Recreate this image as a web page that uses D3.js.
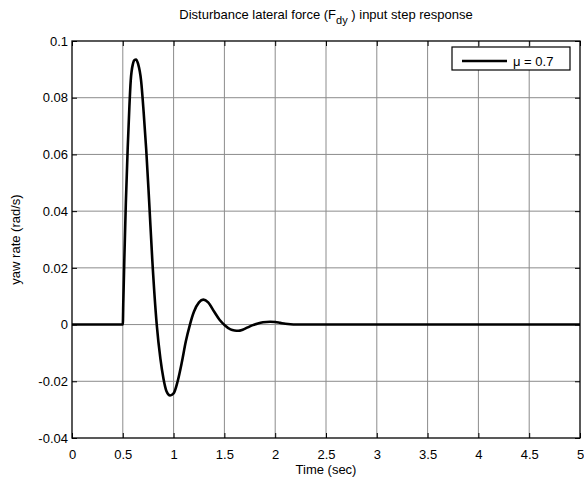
<!DOCTYPE html>
<html><head><meta charset="utf-8">
<script src="https://cdn.jsdelivr.net/npm/d3@7"></script>
<style>body{margin:0;background:#fff}svg{display:block}text{font-family:"Liberation Sans",Arial,sans-serif}</style>
</head><body>
<script>
const timeValues = [0,0.5,0.505,0.515,0.53,0.548,0.565,0.578,0.6,0.615,0.63,0.65,0.68,0.705,0.73,0.76,0.79,0.834,0.87,0.9,0.93,0.965,1.0,1.04,1.08,1.12,1.161,1.2,1.25,1.292,1.34,1.4,1.45,1.506,1.56,1.6,1.637,1.68,1.73,1.78,1.83,1.88,1.95,2.0,2.05,2.1,2.15,2.2,5];
const yawRate   = [0,0,0.008,0.023,0.043,0.062,0.077,0.086,0.092,0.0933,0.0935,0.092,0.086,0.075,0.062,0.043,0.023,0,-0.012,-0.019,-0.0235,-0.025,-0.0243,-0.02,-0.0135,-0.006,0,0.0045,0.0078,0.0088,0.0078,0.0045,0.0018,-0.0003,-0.0017,-0.0021,-0.0022,-0.0018,-0.001,-0.0002,0.0004,0.0008,0.001,0.0009,0.0006,0.0003,0.0001,0,0];
const xTicks = [0,0.5,1,1.5,2,2.5,3,3.5,4,4.5,5];
const yTicks = [-0.04,-0.02,0,0.02,0.04,0.06,0.08,0.1];
const legendLabel = "\u03bc = 0.7";

const W=584,H=482, L=72,R=580,T=41,B=438;
const svg=d3.select("body").append("svg").attr("width",W).attr("height",H);
const x=d3.scaleLinear().domain([0,5]).range([L,R]);
const y=d3.scaleLinear().domain([-0.04,0.1]).range([B,T]);

// grid
svg.append("g").selectAll("line").data(xTicks.slice(1,-1)).join("line")
 .attr("x1",d=>x(d)).attr("x2",d=>x(d)).attr("y1",T).attr("y2",B)
 .attr("stroke","#8c8c8c").attr("stroke-width",1);
svg.append("g").selectAll("line").data(yTicks.slice(1,-1)).join("line")
 .attr("y1",d=>y(d)).attr("y2",d=>y(d)).attr("x1",L).attr("x2",R)
 .attr("stroke","#8c8c8c").attr("stroke-width",1);

// axes with inner ticks
const fmt=d=>String(+d.toFixed(3));
const ax=svg.append("g").attr("transform",`translate(0,${B})`).call(d3.axisBottom(x).tickValues(xTicks).tickFormat(fmt).tickSizeInner(-5).tickSizeOuter(0).tickPadding(12));
const axT=svg.append("g").attr("transform",`translate(0,${T})`).call(d3.axisTop(x).tickValues(xTicks).tickFormat("").tickSizeInner(-5).tickSizeOuter(0));
const ay=svg.append("g").attr("transform",`translate(${L},0)`).call(d3.axisLeft(y).tickValues(yTicks).tickFormat(fmt).tickSizeInner(-5).tickSizeOuter(0).tickPadding(4));
const ayR=svg.append("g").attr("transform",`translate(${R},0)`).call(d3.axisRight(y).tickValues(yTicks).tickFormat("").tickSizeInner(-5).tickSizeOuter(0));
[ax,axT,ay,ayR].forEach(g=>{g.select(".domain").remove();g.selectAll("line").attr("stroke","#000");g.selectAll("text").attr("font-size",13).attr("fill","#000").attr("font-family","Liberation Sans, Arial, sans-serif");});

// curve
svg.append("path").datum(timeValues.map((t,i)=>[t,yawRate[i]]))
 .attr("d",d3.line().x(d=>x(d[0])).y(d=>y(d[1])).curve(d3.curveMonotoneX))
 .attr("fill","none").attr("stroke","#000").attr("stroke-width",2.6).attr("stroke-linejoin","round");

// box
svg.append("rect").attr("x",L).attr("y",T).attr("width",R-L).attr("height",B-T).attr("fill","none").attr("stroke","#000").attr("stroke-width",1.3);

// legend
const lg=svg.append("g");
lg.append("rect").attr("x",452).attr("y",47).attr("width",118).attr("height",23).attr("fill","#fff").attr("stroke","#000").attr("stroke-width",1.2);
lg.append("line").attr("x1",462).attr("x2",507).attr("y1",61).attr("y2",61).attr("stroke","#000").attr("stroke-width",2.6);
lg.append("text").attr("x",513).attr("y",66).attr("font-size",13).text(legendLabel);

// title
const tt=svg.append("text").attr("x",(L+R)/2).attr("y",19).attr("text-anchor","middle").attr("font-size",13);
tt.append("tspan").text("Disturbance lateral force (F");
tt.append("tspan").attr("dy",5).attr("font-size",11).text("dy");
tt.append("tspan").attr("dy",-5).text(" ) input step response");

svg.append("text").attr("x",(L+R)/2).attr("y",474).attr("text-anchor","middle").attr("font-size",13).text("Time (sec)");
svg.append("text").attr("transform",`translate(20,${(T+B)/2}) rotate(-90)`).attr("text-anchor","middle").attr("font-size",13).text("yaw rate (rad/s)");
</script>
</body></html>
